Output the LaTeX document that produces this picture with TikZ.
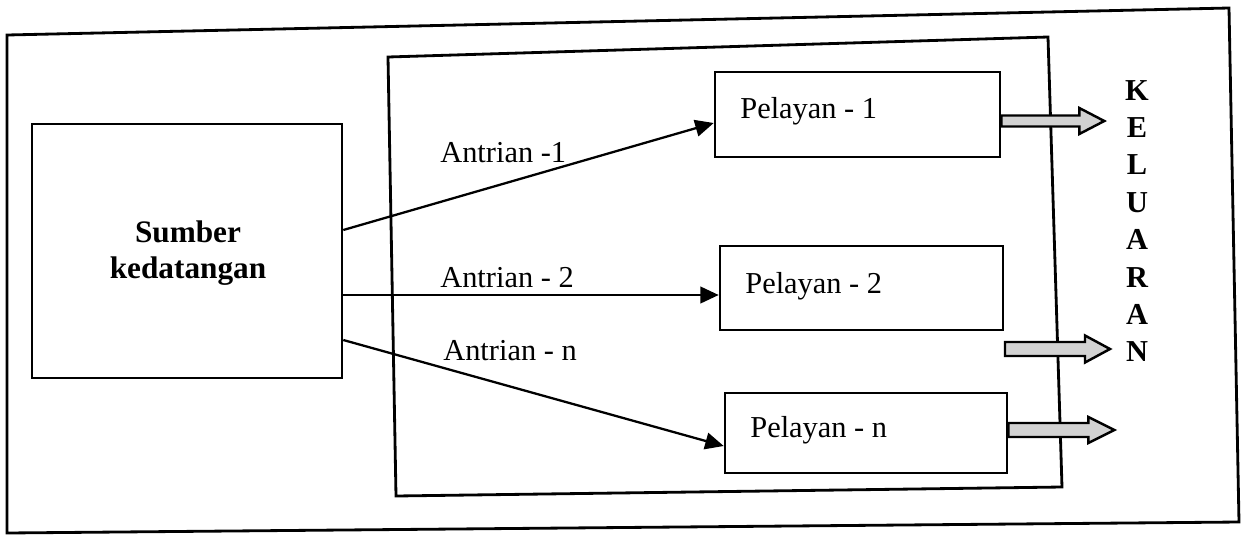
\documentclass[tikz,border=0pt]{standalone}
\usepackage{fontspec}
\setmainfont{Liberation Serif}
\usetikzlibrary{arrows.meta,calc}

\tikzset{
  frame/.style={draw=black, line width=1.6pt, line join=miter},
  box/.style={draw=black, line width=1.5pt, inner sep=0pt},
  txt/.style={inner sep=0pt, anchor=base west, font=\fontsize{17.3}{20}\selectfont},
  bold/.style={inner sep=0pt, anchor=base, font=\fontsize{17.8}{20}\selectfont\bfseries},
  queue/.style={line width=1.3pt, -{Triangle[length=10.5pt,width=9.5pt]}},
  outflow/.style={draw=black, line width=1.4pt, fill=gray!35, line join=miter}
}

% block arrow: start point, shaft length, shaft half height, head half height, total length
\newcommand\outflowarrow[5]{%
  \draw[outflow] (#1) ++(0,-#3) -- ++(#2,0) -- ++(0,#3-#4)
    -- ++(#5-#2,#4) -- ++(#2-#5,#4) -- ++(0,#3-#4) -- ++(-#2,0) -- cycle;}

\begin{document}
\begin{tikzpicture}[x=0.02cm, y=-0.02cm]
  \useasboundingbox[fill=white] (0,0) rectangle (1242,535);

  % outer system boundary and service facility
  \draw[frame] (7,35) -- (1229,8) -- (1239,522) -- (7,533) -- cycle;
  \draw[frame] (388,57) -- (1048,37) -- (1062,487) -- (396,496) -- cycle;

  % arrival source
  \node[box, minimum width=6.2cm, minimum height=5.08cm] (src) at (187,251) {};
  \node[bold] (srcA) at (188,242) {Sumber};
  \node[bold] (srcB) at (188,278) {kedatangan};

  % servers
  \node[box, minimum width=5.7cm, minimum height=1.7cm] (p1) at (857.5,114.5) {};
  \node[box, minimum width=5.66cm, minimum height=1.68cm] (p2) at (861.5,288) {};
  \node[box, minimum width=5.64cm, minimum height=1.6cm] (pn) at (866,433) {};
  \node[txt] (p1t) at (740,118) {Pelayan - 1};
  \node[txt] (p2t) at (745,293) {Pelayan - 2};
  \node[txt] (pnt) at (750,437) {Pelayan - n};

  % queues
  \draw[queue] (src.east |- 0,230) -- (p1.west |- 0,123);
  \draw[queue] (src.east |- 0,295) -- (p2.west |- 0,295);
  \draw[queue] (src.east |- 0,340) -- (pn.west |- 0,446);
  \node[txt] (q1) at (440,162) {Antrian -1};
  \node[txt] (q2) at (440,287) {Antrian - 2};
  \node[txt] (qn) at (443,360) {Antrian - n};

  % departures
  \coordinate (o1) at (p1.east |- 0,121);
  \coordinate (o2) at (1005,349);
  \coordinate (o3) at (pn.east |- 0,430);
  \outflowarrow{o1}{78}{5.5}{13}{103}
  \outflowarrow{o2}{80}{7}{13.5}{105}
  \outflowarrow{o3}{80}{7}{13}{106}

  % exit label, one letter per line
  \foreach \c [count=\i from 0] in {K,E,L,U,A,R,A,N}
    \node[bold, font=\fontsize{17.3}{20}\selectfont\bfseries] (k\i) at (1137,{100+37.4*\i}) {\c};
\end{tikzpicture}
\end{document}
